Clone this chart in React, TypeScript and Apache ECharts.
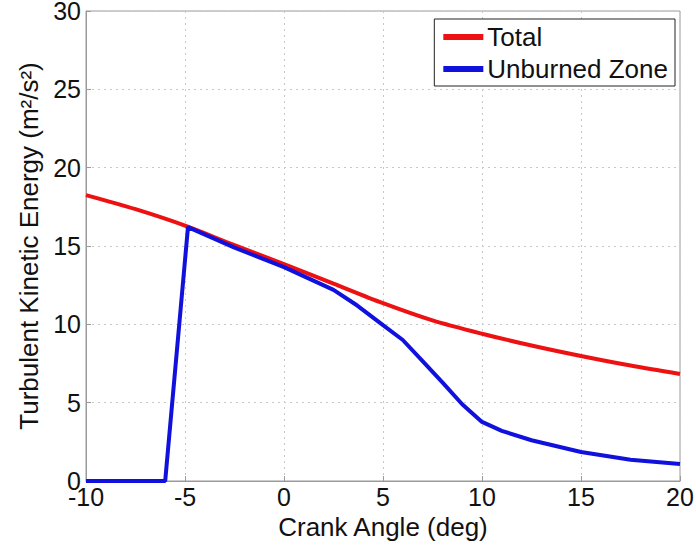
import React, { useEffect, useRef } from "react";
import * as echarts from "echarts";

const totalX = [-10, -7.5, -5, -2.5, 0, 2.5, 5, 7.5, 10, 12.5, 15, 17.5, 20];
const totalY = [18.25, 17.35, 16.3, 15.05, 13.85, 12.6, 11.35, 10.25, 9.4, 8.65, 7.98, 7.37, 6.83];

const unburnedX = [-10, -6, -4.85, -2.5, 0, 2.5, 3.7, 5, 6, 7, 8, 9, 10, 11, 12.5, 15, 17.5, 20];
const unburnedY = [0, 0, 16.2, 14.9, 13.65, 12.2, 11.2, 9.95, 9.0, 7.65, 6.3, 4.9, 3.77, 3.2, 2.6, 1.85, 1.36, 1.08];

const xTicks = [-10, -5, 0, 5, 10, 15, 20];
const yTicks = [0, 5, 10, 15, 20, 25, 30];

const FONT = "'Liberation Sans', Arial, Helvetica, sans-serif";

export default function App() {
  const ref = useRef<HTMLDivElement>(null);
  useEffect(() => {
    if (!ref.current) return;
    const chart = echarts.init(ref.current, undefined, { renderer: "svg" });
    const gridLine = { show: true, lineStyle: { color: "#c8c8c8", type: [2, 4] as any, width: 1 } };
    chart.setOption({
      animation: false,
      backgroundColor: "#ffffff",
      textStyle: { fontFamily: FONT },
      grid: {
        left: 86,
        right: 16,
        top: 11,
        bottom: 65,
        outerBoundsMode: "none",
        containLabel: false,
        show: true,
        borderColor: "#9a9a9a",
        borderWidth: 1,
      },
      legend: {
        orient: "vertical",
        right: 21,
        top: 19,
        backgroundColor: "#ffffff",
        borderColor: "#222",
        borderWidth: 1,
        borderRadius: 0,
        padding: [5, 7, 4, 9],
        itemWidth: 40,
        itemHeight: 6,
        itemGap: 6,
        icon: "rect",
        textStyle: { fontSize: 26, color: "#111", fontFamily: FONT, padding: [0, 0, 0, -1] },
        data: ["Total", "Unburned Zone"],
      },
      xAxis: {
        type: "value",
        min: -10,
        max: 20,
        interval: 5,
        name: "Crank Angle (deg)",
        nameLocation: "middle",
        nameGap: 20,
        nameTextStyle: { fontSize: 26, color: "#111", fontFamily: FONT },
        axisLine: { show: true, onZero: false, lineStyle: { color: "#9a9a9a" } },
        axisTick: { show: true, inside: true, length: 5, lineStyle: { color: "#9a9a9a" } },
        axisLabel: {
          fontSize: 25,
          color: "#111",
          margin: 3,
          fontFamily: FONT,
          formatter: (v: number) => (xTicks.includes(v) ? String(v) : ""),
        },
        splitLine: gridLine,
      },
      yAxis: {
        type: "value",
        min: 0,
        max: 30,
        interval: 5,
        name: "Turbulent Kinetic Energy (m²/s²)",
        nameLocation: "middle",
        nameGap: 44,
        nameTextStyle: { fontSize: 26, color: "#111", fontFamily: FONT },
        axisLine: { show: true, onZero: false, lineStyle: { color: "#9a9a9a" } },
        axisTick: { show: true, inside: true, length: 5, lineStyle: { color: "#9a9a9a" } },
        axisLabel: {
          fontSize: 25,
          lineHeight: 20,
          color: "#111",
          margin: 5,
          fontFamily: FONT,
          formatter: (v: number) => (yTicks.includes(v) ? String(v) : ""),
        },
        splitLine: gridLine,
      },
      series: [
        {
          name: "Total",
          type: "line",
          data: totalX.map((x, i) => [x, totalY[i]]),
          showSymbol: false,
          smooth: 0.3,
          lineStyle: { color: "#ee1111", width: 4 },
          itemStyle: { color: "#ee1111" },
          z: 2,
        },
        {
          name: "Unburned Zone",
          type: "line",
          data: unburnedX.map((x, i) => [x, unburnedY[i]]),
          showSymbol: false,
          lineStyle: { color: "#1111dd", width: 4 },
          itemStyle: { color: "#1111dd" },
          z: 3,
        },
      ],
    });
    return () => chart.dispose();
  }, []);
  return (
    <div
      ref={ref}
      style={{ position: "fixed", left: 0, top: 0, width: 696, height: 546, background: "#fff" }}
    />
  );
}
